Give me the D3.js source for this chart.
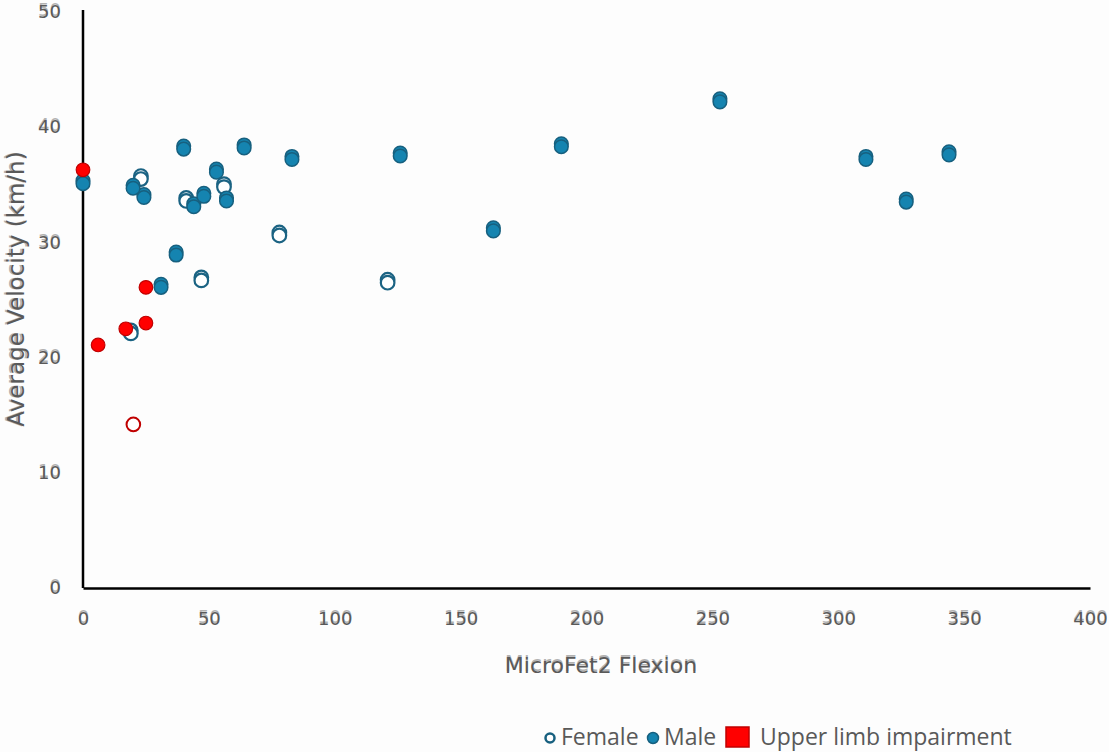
<!DOCTYPE html>
<meta charset="utf-8">
<script src="https://cdn.jsdelivr.net/npm/d3@7"></script>
<style>
  body { margin: 0; background: #fdfdfd; }
  text { font-family: "DejaVu Sans", sans-serif; fill: #595959; }
</style>
<div id="my_dataviz"></div>
<script>

// MicroFet2 flexion (x) vs average velocity in km/h (y)
var maleX   = [0, 19.9, 24.2, 31, 37, 40, 44, 48, 53, 57, 64, 83, 126, 163, 190, 253, 311, 327, 344];
var maleY   = [35.1, 34.7, 33.9, 26.1, 28.9, 38.1, 33.1, 34.0, 36.1, 33.6, 38.2, 37.2, 37.5, 31.0, 38.3, 42.2, 37.2, 33.5, 37.6];
var femaleX = [23, 41, 47, 56, 78, 121, 19];
var femaleY = [35.5, 33.6, 26.7, 34.8, 30.6, 26.5, 22.1];
// upper limb impairment: filled = male, hollow = female
var impMaleX   = [0, 6, 17, 25, 25];
var impMaleY   = [36.3, 21.1, 22.5, 26.1, 23.0];
var impFemaleX = [20];
var impFemaleY = [14.2];

var xTicks = [0, 50, 100, 150, 200, 250, 300, 350, 400];
var yTicks = [0, 10, 20, 30, 40, 50];
var legendLabels = ["Female", "Male", "Upper limb impairment"];

var W = 1109, H = 752;
var margin = {top: 12, right: 19, bottom: 164, left: 83},
    width = W - margin.left - margin.right,
    height = H - margin.top - margin.bottom;

var svg = d3.select("#my_dataviz")
  .append("svg")
    .attr("width", W)
    .attr("height", H);

var g = svg.append("g")
    .attr("transform", "translate(" + margin.left + "," + margin.top + ")");

var x = d3.scaleLinear().domain([0, 400]).range([0, width]);
var y = d3.scaleLinear().domain([0, 50]).range([height, 0]);

// axes (no tick marks, just lines + labels)
var xAxis = g.append("g")
    .attr("transform", "translate(0," + height + ")")
    .call(d3.axisBottom(x).tickValues(xTicks).tickSize(0).tickPadding(24));
var yAxis = g.append("g")
    .call(d3.axisLeft(y).tickValues(yTicks).tickSize(0).tickPadding(22));

[xAxis, yAxis].forEach(function(a) {
  a.select(".domain").attr("stroke", "#000").attr("stroke-width", 2.5);
  a.selectAll(".tick text")
    .style("font-family", "'DejaVu Sans', sans-serif")
    .style("font-size", "18px")
    .attr("fill", "#595959");
  // faint doubled copy like the reference's ghosted labels
  a.selectAll(".tick").each(function() {
    var t = d3.select(this).select("text");
    d3.select(this).insert(function() { return t.node().cloneNode(true); }, "text")
      .attr("transform", "translate(0,-2)")
      .attr("opacity", 0.45);
  });
});
yAxis.select(".domain").attr("d", "M0," + (height) + "V-2");

// axis titles (drawn twice, second slightly offset, like the reference)
[[-2, 0.45], [0, 1]].forEach(function(o) {
  svg.append("text")
      .attr("x", 601)
      .attr("y", 673 + o[0])
      .attr("opacity", o[1])
      .attr("text-anchor", "middle")
      .style("font-size", "22px")
      .text("MicroFet2 Flexion");

  svg.append("text")
      .attr("transform", "translate(" + (24 + o[0]) + ",289) rotate(-90)")
      .attr("opacity", o[1])
      .attr("text-anchor", "middle")
      .style("font-size", "23px")
      .text("Average Velocity (km/h)");
});

// points
function drawPoints(xs, ys, fill, stroke, sw, offsets) {
  var pts = xs.map(function(d, i) { return [d, ys[i]]; });
  // the reference shows the blue markers slightly doubled; draw a copy behind
  offsets.forEach(function(dy) {
    g.append("g").selectAll("circle")
      .data(pts)
      .enter()
      .append("circle")
        .attr("cx", function(d) { return x(d[0]); })
        .attr("cy", function(d) { return y(d[1]) + dy; })
        .attr("r", 6.8)
        .attr("fill", fill)
        .attr("stroke", stroke)
        .attr("stroke-width", sw);
  });
}

drawPoints(femaleX, femaleY, "#ffffff", "#1b6383", 2.2, [-3, 0]);
drawPoints(maleX, maleY, "#1584b0", "#17607f", 1.5, [-3, 0]);
drawPoints(impMaleX, impMaleY, "#ff0000", "#c00000", 1.2, [0]);
drawPoints(impFemaleX, impFemaleY, "#ffffff", "#c00000", 2, [0]);

// legend
var leg = svg.append("g");
leg.append("circle").attr("cx", 550).attr("cy", 738).attr("r", 4.5)
    .attr("fill", "#fff").attr("stroke", "#17607f").attr("stroke-width", 2.5);
leg.append("text").attr("x", 561).attr("y", 745).style("font-family", "'Open Sans', sans-serif")
    .style("font-size", "23px").text(legendLabels[0]);
leg.append("circle").attr("cx", 653).attr("cy", 738).attr("r", 5.5)
    .attr("fill", "#1584b0").attr("stroke", "#17607f").attr("stroke-width", 1.5);
leg.append("text").attr("x", 664).attr("y", 745).style("font-family", "'Open Sans', sans-serif")
    .style("font-size", "23px").text(legendLabels[1]);
leg.append("rect").attr("x", 726).attr("y", 727).attr("width", 23).attr("height", 20)
    .attr("fill", "#ff0000").attr("stroke", "#c00000").attr("stroke-width", 1.5);
leg.append("text").attr("x", 760).attr("y", 745).style("font-family", "'Open Sans', sans-serif")
    .style("font-size", "23px").text(legendLabels[2]);

</script>
